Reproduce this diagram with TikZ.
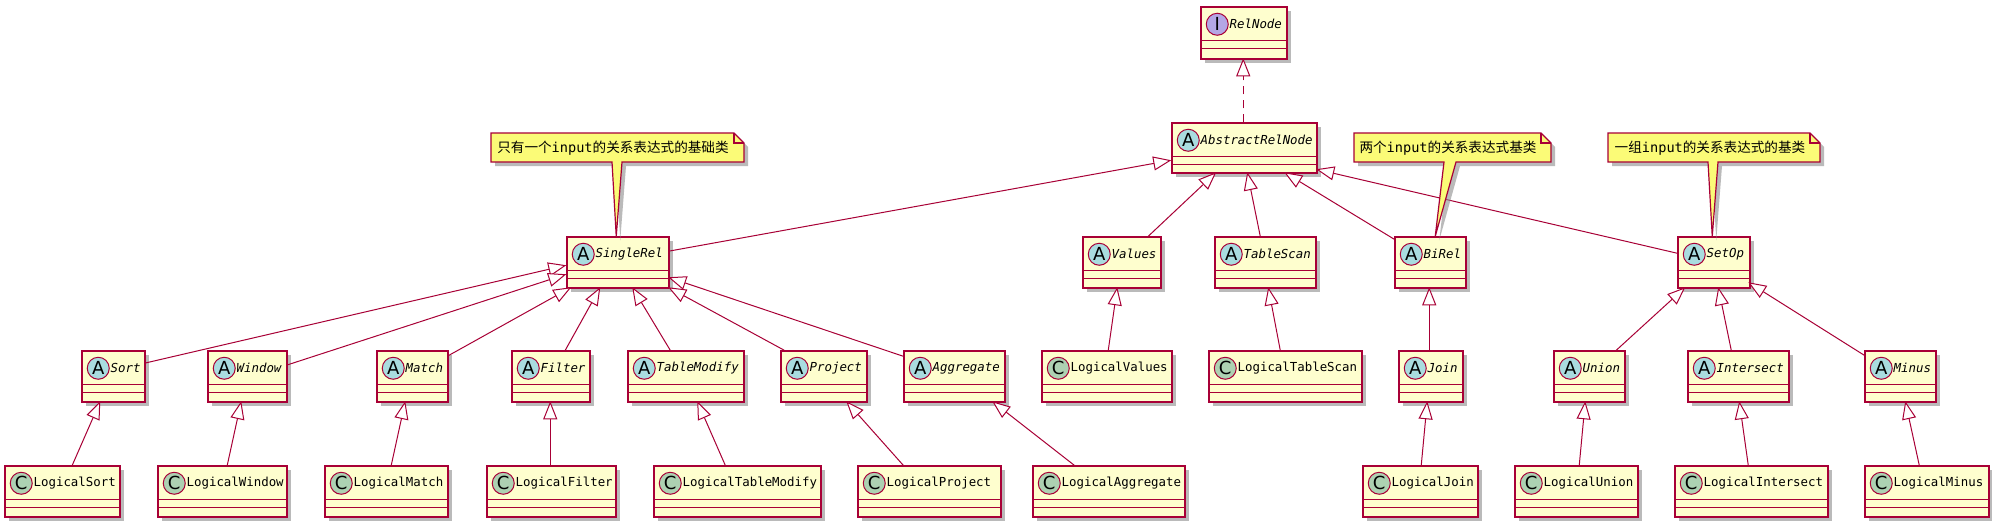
\documentclass[tikz,border=0pt]{standalone}
\usepackage{fontspec}
\setmainfont{DejaVu Sans Mono}
\newfontfamily\cjk{Noto Sans CJK SC}
\newfontfamily\circfont{DejaVu Sans}
\usetikzlibrary{arrows.meta,shadows,fit,calc}
\definecolor{border}{HTML}{A80036}
\definecolor{clsfill}{HTML}{FEFECE}
\definecolor{notefill}{HTML}{FBFB77}
\definecolor{circA}{HTML}{A9DCDF}
\definecolor{circC}{HTML}{ADD1B2}
\definecolor{circI}{HTML}{B4A7E5}
\tikzset{
  shad/.style={drop shadow={shadow xshift=2pt,shadow yshift=-2pt,fill=black!45,opacity=0.6}},
  cls/.style={draw=border,fill=clsfill,line width=0.75pt,inner sep=0pt,shad},
  clsline/.style={draw=border,line width=0.75pt},
  circ/.style={circle,draw=border,line width=0.5pt,minimum size=11pt,inner sep=0pt,font=\circfont\fontsize{9}{9}\selectfont},
  ctext/.style={anchor=west,inner sep=0pt,font=\fontsize{6.2}{7}\selectfont},
  inh/.style={draw=border,line width=0.5pt,-{Triangle[open,length=9pt,width=7pt,fill=white]}},
  note/.style={draw=border,fill=notefill,line width=0.6pt,shad},
  ntext/.style={inner sep=0pt,font=\fontsize{6.8}{8}\selectfont},
}
\newcommand\umlclass[8]{%
  \coordinate (#1-a) at (#5,#6); \coordinate (#1-b) at (#7,#8);
  \node[cls,fit=(#1-a)(#1-b)] (#1) {};
  \draw[clsline] ($(#1.north west)+(0,34)$) -- ($(#1.north east)+(0,34)$);
  \draw[clsline] ($(#1.north west)+(0,42)$) -- ($(#1.north east)+(0,42)$);
  \node[circ,fill=#3] (#1-c) at ($(#1.north west)+(17,18)$) {#2};
  \node[ctext] (#1-t) at ($(#1.north west)+(29,18)$) {#4};
}
\newcommand\inh[5][]{%
  \draw[inh,#1] ([shift={(#3)}]#2.north west) -- ([shift={(#5)}]#4.north west);
}
\newcommand\umlnote[7]{%
  \path[note] (#2,#3) -- (#4-10,#3) -- (#4,#3+10) -- (#4,#5) -- (#7,#5) -- (#1-tip) -- (#6,#5) -- (#2,#5) -- cycle;
  \draw[border,line width=0.6pt] (#4-10,#3) -- (#4-10,#3+10) -- (#4,#3+10);
}
\begin{document}
\begin{tikzpicture}[x=0.5pt,y=-0.5pt]
\useasboundingbox[fill=white] (0,0) rectangle (1992,526);
% classes
\umlclass{RelNode}{I}{circI}{\itshape RelNode}{1201}{7}{1287}{59}
\umlclass{Abs}{A}{circA}{\itshape AbstractRelNode}{1172}{123}{1317}{173}
\umlclass{SingleRel}{A}{circA}{\itshape SingleRel}{567}{237}{669}{288}
\umlclass{Values}{A}{circA}{\itshape Values}{1083}{237}{1161}{288}
\umlclass{TableScan}{A}{circA}{\itshape TableScan}{1215}{237}{1316}{288}
\umlclass{BiRel}{A}{circA}{\itshape BiRel}{1395}{237}{1466}{288}
\umlclass{SetOp}{A}{circA}{\itshape SetOp}{1678}{237}{1750}{288}
\umlclass{Sort}{A}{circA}{\itshape Sort}{82}{351}{145}{402}
\umlclass{Window}{A}{circA}{\itshape Window}{208}{351}{287}{402}
\umlclass{Match}{A}{circA}{\itshape Match}{377}{351}{448}{402}
\umlclass{Filter}{A}{circA}{\itshape Filter}{512}{351}{590}{402}
\umlclass{TableModify}{A}{circA}{\itshape TableModify}{628}{351}{744}{402}
\umlclass{Project}{A}{circA}{\itshape Project}{781}{351}{867}{402}
\umlclass{Aggregate}{A}{circA}{\itshape Aggregate}{904}{351}{1005}{402}
\umlclass{LValues}{C}{circC}{LogicalValues}{1042}{351}{1172}{402}
\umlclass{LTableScan}{C}{circC}{LogicalTableScan}{1209}{351}{1362}{402}
\umlclass{Join}{A}{circA}{\itshape Join}{1399}{351}{1463}{402}
\umlclass{Union}{A}{circA}{\itshape Union}{1554}{351}{1625}{402}
\umlclass{Intersect}{A}{circA}{\itshape Intersect}{1688}{351}{1789}{402}
\umlclass{Minus}{A}{circA}{\itshape Minus}{1865}{351}{1936}{402}
\umlclass{LSort}{C}{circC}{LogicalSort}{5}{466}{120}{517}
\umlclass{LWindow}{C}{circC}{LogicalWindow}{158}{466}{287}{517}
\umlclass{LMatch}{C}{circC}{LogicalMatch}{325}{466}{448}{517}
\umlclass{LFilter}{C}{circC}{LogicalFilter}{487}{466}{616}{517}
\umlclass{LTableModify}{C}{circC}{LogicalTableModify}{654}{466}{821}{517}
\umlclass{LProject}{C}{circC}{LogicalProject}{858}{466}{1001}{517}
\umlclass{LAggregate}{C}{circC}{LogicalAggregate}{1033}{466}{1185}{517}
\umlclass{LJoin}{C}{circC}{LogicalJoin}{1363}{466}{1478}{517}
\umlclass{LUnion}{C}{circC}{LogicalUnion}{1515}{466}{1638}{517}
\umlclass{LIntersect}{C}{circC}{LogicalIntersect}{1675}{466}{1828}{517}
\umlclass{LMinus}{C}{circC}{LogicalMinus}{1865}{466}{1989}{517}
% inheritance
\inh[dashed,dash pattern=on 4pt off 3pt]{Abs}{72,0}{RelNode}{43,52}
\inh{SingleRel}{102,15}{Abs}{0,38}
\inh{Values}{66,0}{Abs}{45,50}
\inh{TableScan}{46,0}{Abs}{76,50}
\inh{BiRel}{0,3}{Abs}{113,50}
\inh{SetOp}{0,17}{Abs}{145,47}
\inh{Sort}{63,13}{SingleRel}{0,29}
\inh{Window}{79,15}{SingleRel}{0,38}
\inh{Match}{71,6}{SingleRel}{5,51}
\inh{Filter}{54,0}{SingleRel}{34,51}
\inh{TableModify}{43,0}{SingleRel}{66,51}
\inh{Project}{4,0}{SingleRel}{102,51}
\inh{Aggregate}{0,6}{SingleRel}{102,41}
\inh{LSort}{68,0}{Sort}{19,51}
\inh{LWindow}{70,0}{Window}{34,51}
\inh{LMatch}{67,0}{Match}{29,51}
\inh{LFilter}{64,0}{Filter}{39,51}
\inh{LTableModify}{72,0}{TableModify}{70,51}
\inh{LProject}{46,0}{Project}{66,51}
\inh{LAggregate}{42,0}{Aggregate}{89,51}
\inh{LValues}{67,0}{Values}{35,51}
\inh{LTableScan}{72,0}{TableScan}{54,51}
\inh{Join}{31,0}{BiRel}{35,51}
\inh{LJoin}{59,0}{Join}{29,51}
\inh{Union}{63,0}{SetOp}{8,51}
\inh{Intersect}{44,0}{SetOp}{41,51}
\inh{Minus}{0,5}{SetOp}{71,46}
\inh{LUnion}{65,0}{Union}{32,51}
\inh{LIntersect}{74,0}{Intersect}{52,51}
\inh{LMinus}{55,0}{Minus}{41,51}
% notes
\coordinate (n1-tip) at ([shift={(50,0)}]SingleRel.north west);
\coordinate (n2-tip) at ([shift={(41,0)}]BiRel.north west);
\coordinate (n3-tip) at ([shift={(35,0)}]SetOp.north west);
\umlnote{n1}{491}{133}{744}{162}{612}{622}
\node[ntext] (n1t) at (613,148) {{\cjk 只有一个}input{\cjk 的关系表达式的基础类}};
\umlnote{n2}{1354}{133}{1551}{162}{1444}{1456}
\node[ntext] (n2t) at (1448,148) {{\cjk 两个}input{\cjk 的关系表达式基类}};
\umlnote{n3}{1608}{133}{1820}{162}{1708}{1718}
\node[ntext] (n3t) at (1710,148) {{\cjk 一组}input{\cjk 的关系表达式的基类}};
\end{tikzpicture}
\end{document}
